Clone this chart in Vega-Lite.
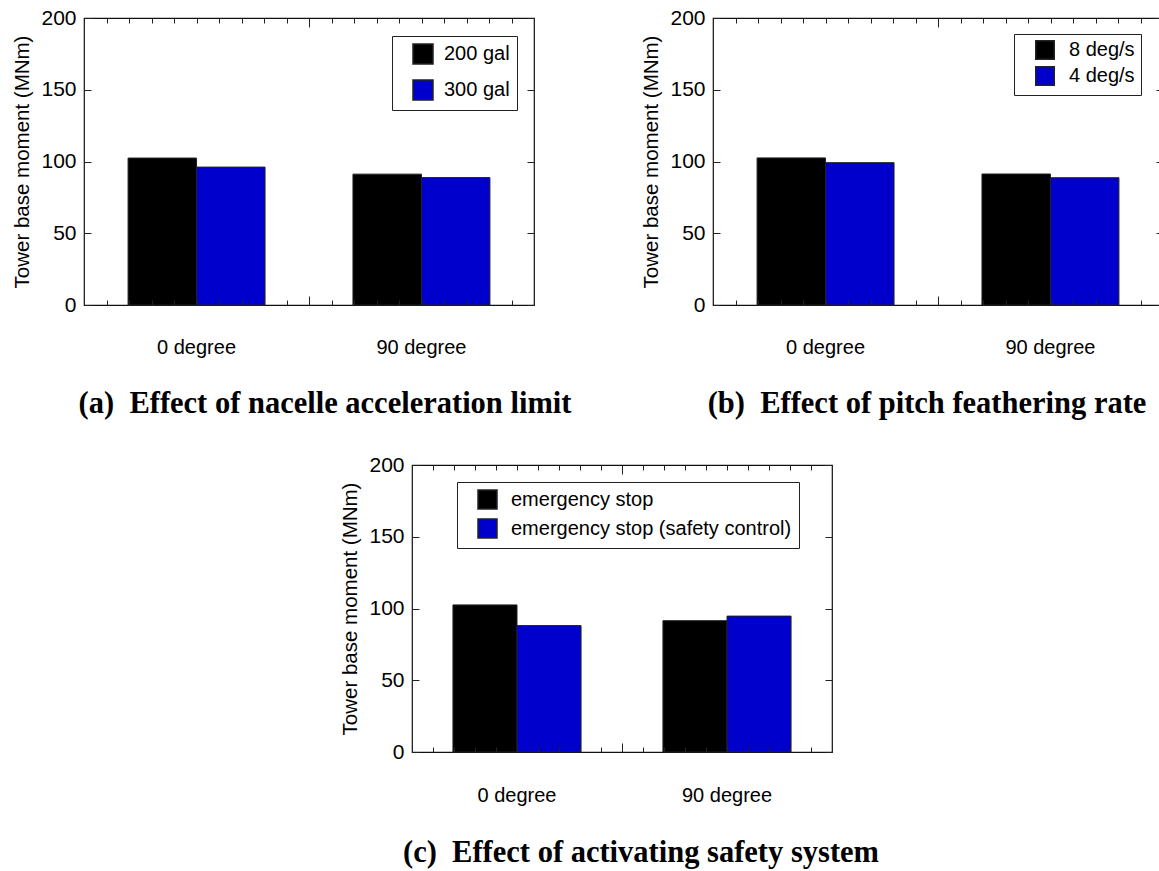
{
  "$schema": "https://vega.github.io/schema/vega-lite/v6.json",
  "padding": {"left": 12, "top": 6, "right": 0, "bottom": 0},
  "background": "white",
  "spacing": 32,
  "resolve": {"scale": {"color": "independent", "xOffset": "independent"}, "legend": {"color": "independent"}},
  "vconcat": [
    {
      "bounds": "flush",
      "spacing": 179,
      "resolve": {"scale": {"color": "independent", "xOffset": "independent"}, "legend": {"color": "independent"}},
      "hconcat": [
        {
          "width": 450, "height": 287,
          "data": {"values": [
            {"angle": "0 degree", "case": "200 gal", "moment": 102.4},
            {"angle": "0 degree", "case": "300 gal", "moment": 96.1},
            {"angle": "90 degree", "case": "200 gal", "moment": 91.2},
            {"angle": "90 degree", "case": "300 gal", "moment": 88.8}
          ]},
          "title": {"text": "(a)\u00a0\u00a0Effect of nacelle acceleration limit", "orient": "bottom", "anchor": "middle", "frame": "group", "dx": 16, "offset": 32},
          "layer": [
            {
              "mark": {"type": "bar", "stroke": "#222", "strokeWidth": 1},
              "encoding": {
                "x": {"field": "angle", "type": "nominal", "sort": null, "scale": {"paddingInner": 0.391, "paddingOuter": 0.196}, "axis": {"orient": "bottom", "title": null, "ticks": false, "domain": false, "labelAngle": 0, "labelFontSize": 20, "labelPadding": 32}},
                "xOffset": {"field": "case", "type": "nominal", "sort": null, "scale": {"paddingInner": 0, "paddingOuter": 0}},
                "y": {"field": "moment", "type": "quantitative", "scale": {"domain": [0, 200], "nice": false}, "axis": {"orient": "left", "values": [0, 50, 100, 150, 200], "tickSize": -7, "labelFontSize": 21, "labelPadding": 15, "title": "Tower base moment (MNm)", "titleFontSize": 20.5, "titleFontWeight": "normal", "titlePadding": 8, "zindex": 1}},
                "color": {"field": "case", "type": "nominal", "sort": null, "scale": {"domain": ["200 gal", "300 gal"], "range": ["#000000", "#0000cc"]}, "legend": {"orient": "none", "legendX": 308, "legendY": 18, "title": null, "symbolType": "square", "symbolSize": 400, "labelFontSize": 20, "padding": 7, "symbolOffset": 13, "labelOffset": 10, "rowPadding": 10, "strokeColor": "#222", "fillColor": "white"}}
              }
            },
            {
              "mark": {"type": "point", "opacity": 0},
              "encoding": {
                "x": {"datum": 0, "type": "quantitative", "scale": {"domain": [0, 20], "nice": false, "zero": false}, "axis": {"orient": "bottom", "values": [0,1,2,3,4,5,6,7,8,9,10,11,12,13,14,15,16,17,18,19,20], "labels": false, "title": null, "domain": false, "tickSize": {"condition": {"test": "datum.value === 10", "value": -9}, "value": -5}, "zindex": 1}},
                "y": {"datum": 0, "type": "quantitative", "scale": {"domain": [0, 200], "nice": false}, "axis": {"orient": "right", "values": [0, 50, 100, 150, 200], "labels": false, "title": null, "domain": false, "tickSize": -7, "zindex": 1}}
              }
            },
            {
              "mark": {"type": "point", "opacity": 0},
              "encoding": {
                "x": {"datum": 0, "type": "quantitative", "scale": {"domain": [0, 20], "nice": false, "zero": false}, "axis": {"orient": "top", "values": [0,1,2,3,4,5,6,7,8,9,10,11,12,13,14,15,16,17,18,19,20], "labels": false, "title": null, "domain": false, "tickSize": {"condition": {"test": "datum.value === 10", "value": -9}, "value": -5}, "zindex": 1}},
                "y": {"datum": 0, "type": "quantitative", "scale": {"domain": [0, 200], "nice": false}, "axis": null}
              }
            }
          ],
          "resolve": {"scale": {"x": "independent", "y": "independent"}, "axis": {"x": "independent", "y": "independent"}}
        },
        {
          "width": 450, "height": 287,
          "data": {"values": [
            {"angle": "0 degree", "case": "8 deg/s", "moment": 102.5},
            {"angle": "0 degree", "case": "4 deg/s", "moment": 99.2},
            {"angle": "90 degree", "case": "8 deg/s", "moment": 91.3},
            {"angle": "90 degree", "case": "4 deg/s", "moment": 88.7}
          ]},
          "title": {"text": "(b)\u00a0\u00a0Effect of pitch feathering rate", "orient": "bottom", "anchor": "middle", "frame": "group", "dx": -11, "offset": 32},
          "layer": [
            {
              "mark": {"type": "bar", "stroke": "#222", "strokeWidth": 1},
              "encoding": {
                "x": {"field": "angle", "type": "nominal", "sort": null, "scale": {"paddingInner": 0.391, "paddingOuter": 0.196}, "axis": {"orient": "bottom", "title": null, "ticks": false, "domain": false, "labelAngle": 0, "labelFontSize": 20, "labelPadding": 32}},
                "xOffset": {"field": "case", "type": "nominal", "sort": null, "scale": {"paddingInner": 0, "paddingOuter": 0}},
                "y": {"field": "moment", "type": "quantitative", "scale": {"domain": [0, 200], "nice": false}, "axis": {"orient": "left", "values": [0, 50, 100, 150, 200], "tickSize": -7, "labelFontSize": 21, "labelPadding": 15, "title": "Tower base moment (MNm)", "titleFontSize": 20.5, "titleFontWeight": "normal", "titlePadding": 8, "zindex": 1}},
                "color": {"field": "case", "type": "nominal", "sort": null, "scale": {"domain": ["8 deg/s", "4 deg/s"], "range": ["#000000", "#0000cc"]}, "legend": {"orient": "none", "legendX": 301, "legendY": 16, "title": null, "symbolType": "square", "symbolSize": 342, "labelFontSize": 20, "padding": 6, "symbolOffset": 15, "labelOffset": 14, "rowPadding": 0, "strokeColor": "#222", "fillColor": "white"}}
              }
            },
            {
              "mark": {"type": "point", "opacity": 0},
              "encoding": {
                "x": {"datum": 0, "type": "quantitative", "scale": {"domain": [0, 20], "nice": false, "zero": false}, "axis": {"orient": "bottom", "values": [0,1,2,3,4,5,6,7,8,9,10,11,12,13,14,15,16,17,18,19,20], "labels": false, "title": null, "domain": false, "tickSize": {"condition": {"test": "datum.value === 10", "value": -9}, "value": -5}, "zindex": 1}},
                "y": {"datum": 0, "type": "quantitative", "scale": {"domain": [0, 200], "nice": false}, "axis": {"orient": "right", "values": [0, 50, 100, 150, 200], "labels": false, "title": null, "domain": false, "tickSize": -7, "zindex": 1}}
              }
            },
            {
              "mark": {"type": "point", "opacity": 0},
              "encoding": {
                "x": {"datum": 0, "type": "quantitative", "scale": {"domain": [0, 20], "nice": false, "zero": false}, "axis": {"orient": "top", "values": [0,1,2,3,4,5,6,7,8,9,10,11,12,13,14,15,16,17,18,19,20], "labels": false, "title": null, "domain": false, "tickSize": {"condition": {"test": "datum.value === 10", "value": -9}, "value": -5}, "zindex": 1}},
                "y": {"datum": 0, "type": "quantitative", "scale": {"domain": [0, 200], "nice": false}, "axis": null}
              }
            }
          ],
          "resolve": {"scale": {"x": "independent", "y": "independent"}, "axis": {"x": "independent", "y": "independent"}}
        }
      ]
    },
    {
      "bounds": "flush",
      "spacing": 0,
      "resolve": {"scale": {"color": "independent", "xOffset": "independent"}, "legend": {"color": "independent"}},
      "hconcat": [
        {
          "width": 328, "height": 10,
          "data": {"values": [{"k": 1}]},
          "mark": {"type": "point", "opacity": 0},
          "encoding": {},
          "view": {"stroke": null}
        },
        {
          "width": 420, "height": 287,
          "data": {"values": [
            {"angle": "0 degree", "case": "emergency stop", "moment": 102.5},
            {"angle": "0 degree", "case": "emergency stop (safety control)", "moment": 88.1},
            {"angle": "90 degree", "case": "emergency stop", "moment": 91.5},
            {"angle": "90 degree", "case": "emergency stop (safety control)", "moment": 94.7}
          ]},
          "title": {"text": "(c)\u00a0\u00a0Effect of activating safety system", "orient": "bottom", "anchor": "middle", "frame": "group", "dx": 19, "offset": 33},
          "layer": [
            {
              "mark": {"type": "bar", "stroke": "#222", "strokeWidth": 1},
              "encoding": {
                "x": {"field": "angle", "type": "nominal", "sort": null, "scale": {"paddingInner": 0.39, "paddingOuter": 0.195}, "axis": {"orient": "bottom", "title": null, "ticks": false, "domain": false, "labelAngle": 0, "labelFontSize": 20, "labelPadding": 33}},
                "xOffset": {"field": "case", "type": "nominal", "sort": null, "scale": {"paddingInner": 0, "paddingOuter": 0}},
                "y": {"field": "moment", "type": "quantitative", "scale": {"domain": [0, 200], "nice": false}, "axis": {"orient": "left", "values": [0, 50, 100, 150, 200], "tickSize": -7, "labelFontSize": 21, "labelPadding": 15, "title": "Tower base moment (MNm)", "titleFontSize": 20.5, "titleFontWeight": "normal", "titlePadding": 8, "zindex": 1}},
                "color": {"field": "case", "type": "nominal", "sort": null, "scale": {"domain": ["emergency stop", "emergency stop (safety control)"], "range": ["#000000", "#0000cc"]}, "legend": {"orient": "none", "legendX": 45, "legendY": 17, "title": null, "symbolType": "square", "symbolSize": 361, "labelFontSize": 20, "padding": 7, "symbolOffset": 13, "labelOffset": 13, "rowPadding": 4, "strokeColor": "#222", "fillColor": "white"}}
              }
            },
            {
              "mark": {"type": "point", "opacity": 0},
              "encoding": {
                "x": {"datum": 0, "type": "quantitative", "scale": {"domain": [0, 20], "nice": false, "zero": false}, "axis": {"orient": "bottom", "values": [0,1,2,3,4,5,6,7,8,9,10,11,12,13,14,15,16,17,18,19,20], "labels": false, "title": null, "domain": false, "tickSize": {"condition": {"test": "datum.value === 10", "value": -9}, "value": -5}, "zindex": 1}},
                "y": {"datum": 0, "type": "quantitative", "scale": {"domain": [0, 200], "nice": false}, "axis": {"orient": "right", "values": [0, 50, 100, 150, 200], "labels": false, "title": null, "domain": false, "tickSize": -7, "zindex": 1}}
              }
            },
            {
              "mark": {"type": "point", "opacity": 0},
              "encoding": {
                "x": {"datum": 0, "type": "quantitative", "scale": {"domain": [0, 20], "nice": false, "zero": false}, "axis": {"orient": "top", "values": [0,1,2,3,4,5,6,7,8,9,10,11,12,13,14,15,16,17,18,19,20], "labels": false, "title": null, "domain": false, "tickSize": {"condition": {"test": "datum.value === 10", "value": -9}, "value": -5}, "zindex": 1}},
                "y": {"datum": 0, "type": "quantitative", "scale": {"domain": [0, 200], "nice": false}, "axis": null}
              }
            }
          ],
          "resolve": {"scale": {"x": "independent", "y": "independent"}, "axis": {"x": "independent", "y": "independent"}}
        }
      ]
    }
  ],
  "config": {
    "view": {"stroke": "#111", "strokeWidth": 1.2},
    "font": "Liberation Sans",
    "axis": {"labelFont": "Liberation Sans", "titleFont": "Liberation Sans", "labelColor": "black", "titleColor": "black", "tickColor": "#222", "tickWidth": 1, "grid": false, "domain": false},
    "legend": {"labelFont": "Liberation Sans", "labelColor": "black", "labelLimit": 400},
    "title": {"font": "Liberation Serif", "fontSize": 30.5, "fontWeight": "bold", "color": "black"}
  }
}
